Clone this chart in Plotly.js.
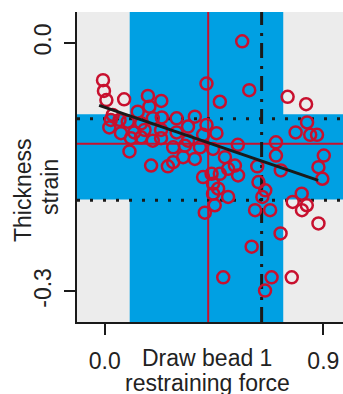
<!DOCTYPE html>
<html>
<head>
<meta charset="utf-8">
<script src="https://cdn.plot.ly/plotly-3.0.1.min.js"></script>
<style>html,body{margin:0;padding:0;background:#fff;}#chart{width:343px;height:394px;}</style>
</head>
<body>
<div id="chart"></div>
<script>
// Data
var forceX = [
  -0.007,-0.003,0.007,0.080,0.033,0.025,0.061,0.019,0.095,0.067,
  0.108,0.136,0.178,0.184,0.150,0.198,0.233,0.235,0.122,0.164,
  0.150,0.198,0.232,0.102,0.191,0.260,0.282,0.296,0.371,0.343,
  0.419,0.460,0.405,0.296,0.343,0.282,0.330,0.392,0.446,0.495,
  0.548,0.323,0.371,0.405,0.440,0.474,0.508,0.536,0.549,0.446,
  0.467,0.446,0.508,0.412,0.419,0.474,0.453,0.488,0.566,0.595,
  0.628,0.633,0.661,0.649,0.619,0.681,0.724,0.605,0.687,0.660,
  0.770,0.705,0.705,0.725,0.753,0.829,0.833,0.786,0.846,0.874,
  0.902,0.880,0.896,0.811,0.774,0.832,0.812,0.880,0.232
];
var strainY = [
  -0.045,-0.058,-0.069,-0.068,-0.087,-0.093,-0.093,-0.102,-0.095,-0.109,
  -0.115,-0.083,-0.064,-0.077,-0.097,-0.091,-0.070,-0.090,-0.108,-0.105,
  -0.114,-0.118,-0.115,-0.131,-0.148,-0.149,-0.144,-0.091,-0.089,-0.101,
  -0.099,-0.109,-0.111,-0.108,-0.118,-0.126,-0.124,-0.126,-0.128,-0.138,
  -0.123,-0.138,-0.140,-0.162,-0.158,-0.158,-0.152,-0.148,-0.160,-0.170,
  -0.176,-0.182,-0.186,-0.205,-0.049,-0.071,-0.196,-0.283,0.002,-0.057,
  -0.149,-0.168,-0.178,-0.186,-0.202,-0.202,-0.230,-0.246,-0.283,-0.299,
  -0.283,-0.120,-0.136,-0.154,-0.065,-0.074,-0.096,-0.108,-0.111,-0.111,
  -0.136,-0.150,-0.164,-0.182,-0.192,-0.196,-0.202,-0.218,-0.105
];
var fitX = [-0.023, 0.879];
var fitY = [-0.0753, -0.166];
var bandX = [0.103, 0.735];      // blue vertical band
var bandY = [-0.189, -0.0861];   // blue horizontal band
var centerX = 0.426;             // red vertical line
var centerY = -0.1216;           // red horizontal line
var refX = 0.646;                // dash-dot vertical line
var dotY = [-0.0914, -0.190];    // dotted horizontal lines
var xTicks = [0.0, 0.9];
var xTickText = ['0.0', '0.9'];
var yTicks = [0.0, -0.3];
var yTickText = ['0.0', '-0.3'];

var RED = '#c8102e', BLUE = '#00a0e3', GREY = '#ececec', INK = '#1a1a1a';
var FONT = 'Liberation Sans, Arial, sans-serif';

var shapes = [
  {type:'rect', xref:'x', yref:'paper', x0:bandX[0], x1:bandX[1], y0:0, y1:1, fillcolor:BLUE, line:{width:0}, layer:'below'},
  {type:'rect', xref:'paper', yref:'y', x0:0, x1:1, y0:bandY[0], y1:bandY[1], fillcolor:BLUE, line:{width:0}, layer:'below'},
  {type:'line', xref:'x', yref:'paper', x0:centerX, x1:centerX, y0:0, y1:1, line:{color:RED, width:2}, layer:'below'},
  {type:'line', xref:'paper', yref:'y', x0:0, x1:1, y0:centerY, y1:centerY, line:{color:RED, width:2}, layer:'below'},
  {type:'line', xref:'x', yref:'paper', x0:refX, x1:refX, y0:0, y1:1, line:{color:INK, width:3, dash:'15px,7px,3px,8px'}, layer:'below'}
];
dotY.forEach(function(v){
  shapes.push({type:'line', xref:'paper', yref:'y', x0:0, x1:1, y0:v, y1:v, line:{color:INK, width:3, dash:'3px,10px'}, layer:'below'});
});

var traces = [
  {x:forceX, y:strainY, type:'scatter', mode:'markers', hoverinfo:'skip',
   marker:{symbol:'circle-open', size:12, color:RED, line:{color:RED, width:2.5}}},
  {x:fitX, y:fitY, type:'scatter', mode:'lines', hoverinfo:'skip',
   line:{color:INK, width:3}}
];

var layout = {
  width:343, height:394,
  margin:{l:77, r:0, t:12, b:72, pad:0},
  paper_bgcolor:'#ffffff', plot_bgcolor:GREY,
  showlegend:false,
  font:{family:FONT, size:23, color:'#222'},
  xaxis:{range:[-0.114, 0.981], showgrid:false, zeroline:false,
    showline:true, linecolor:INK, linewidth:2,
    ticks:'outside', ticklen:11, tickwidth:2, tickcolor:INK,
    tickvals:xTicks, ticktext:xTickText, ticklabelstandoff:6,
    tickfont:{family:FONT, size:23, color:'#222'}},
  yaxis:{range:[-0.337, 0.0374], showgrid:false, zeroline:false,
    showline:true, linecolor:INK, linewidth:2,
    ticks:'outside', ticklen:11, tickwidth:2, tickcolor:INK,
    tickvals:yTicks, ticktext:yTickText, tickangle:-90, ticklabelstandoff:4,
    tickfont:{family:FONT, size:23, color:'#222'}},
  shapes:shapes,
  annotations:[
    {text:'Draw bead 1', xref:'paper', yref:'paper', x:0.489, y:(322-358)/310, xanchor:'center', yanchor:'middle', showarrow:false, font:{family:FONT, size:23, color:'#222'}},
    {text:'restraining force', xref:'paper', yref:'paper', x:0.489, y:(322-383)/310, xanchor:'center', yanchor:'middle', showarrow:false, font:{family:FONT, size:23, color:'#222'}},
    {text:'Thickness', xref:'paper', yref:'paper', x:(23-77)/266, y:(322-190)/310, xanchor:'center', yanchor:'middle', textangle:-90, showarrow:false, font:{family:FONT, size:23, color:'#222'}},
    {text:'strain', xref:'paper', yref:'paper', x:(50-77)/266, y:(322-187)/310, xanchor:'center', yanchor:'middle', textangle:-90, showarrow:false, font:{family:FONT, size:23, color:'#222'}}
  ]
};

Plotly.newPlot('chart', traces, layout, {staticPlot:true, displayModeBar:false});
</script>
</body>
</html>
